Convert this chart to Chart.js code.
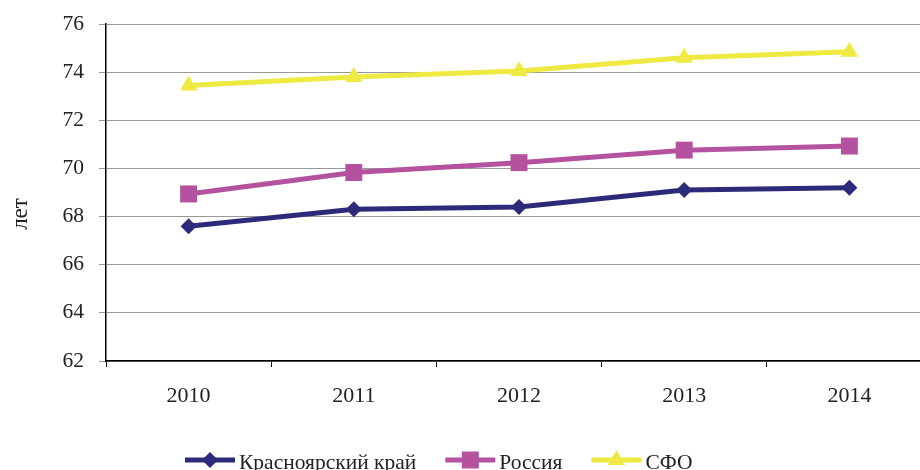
<!DOCTYPE html>
<html>
<head>
<meta charset="utf-8">
<script src="https://cdn.jsdelivr.net/npm/chart.js@4/dist/chart.umd.min.js"></script>
<style>
  html, body { margin:0; padding:0; background:#fff; overflow:hidden; }
  #wrap { width:920px; height:470px; overflow:hidden; position:relative; }
  #box { width:944px; height:470px; position:absolute; left:0; top:0; }
</style>
</head>
<body>
<div id="wrap"><div id="box"><canvas id="c" width="944" height="470"></canvas></div></div>
<script>
const years = ['2010', '2011', '2012', '2013', '2014'];
const krasnoyarsk = [67.6, 68.3, 68.4, 69.1, 69.2];
const russia = [68.94, 69.83, 70.24, 70.76, 70.93];
const sfo = [73.45, 73.8, 74.05, 74.6, 74.85];
const seriesNames = ['Красноярский край', 'Россия', 'СФО'];
const yTicks = [62, 64, 66, 68, 70, 72, 74, 76];
const yTitle = 'лет';

const colors = ['#2E2A7A', '#B5529F', '#EEEA42'];
const styles = ['rectRot', 'rect', 'triangle'];
const radii = [8, 12, 10];
const FONT = '"Liberation Serif", "Times New Roman", serif';

function drawMarker(ctx, style, x, y, r, color) {
  ctx.save();
  ctx.fillStyle = color;
  ctx.beginPath();
  if (style === 'rectRot') {
    ctx.moveTo(x - r, y); ctx.lineTo(x, y - r); ctx.lineTo(x + r, y); ctx.lineTo(x, y + r);
  } else if (style === 'rect') {
    const s = r * Math.SQRT1_2;
    ctx.rect(x - s, y - s, 2 * s, 2 * s);
  } else {
    ctx.moveTo(x, y - r); ctx.lineTo(x + r * 0.866, y + r * 0.5); ctx.lineTo(x - r * 0.866, y + r * 0.5);
  }
  ctx.closePath();
  ctx.fill();
  ctx.restore();
}

const legendPlugin = {
  id: 'customLegend',
  afterDraw(chart) {
    const ctx = chart.ctx;
    ctx.save();
    ctx.font = '23px ' + FONT;
    ctx.fillStyle = '#222';
    ctx.textAlign = 'center';
    ctx.textBaseline = 'middle';
    ctx.translate(21, 214);
    ctx.rotate(-Math.PI / 2);
    ctx.fillText(yTitle, 0, 0);
    ctx.restore();

    ctx.save();
    ctx.font = '21.5px ' + FONT;
    ctx.textBaseline = 'middle';
    let x = 185;
    const y = 460;
    chart.data.datasets.forEach((ds, i) => {
      ctx.strokeStyle = ds.borderColor;
      ctx.lineWidth = 5;
      ctx.beginPath();
      ctx.moveTo(x, y); ctx.lineTo(x + 50, y);
      ctx.stroke();
      drawMarker(ctx, styles[i], x + 25, y, radii[i], ds.borderColor);
      ctx.fillStyle = '#222';
      ctx.textAlign = 'left';
      ctx.fillText(ds.label, x + 54, y + 3);
      x += 54 + ctx.measureText(ds.label).width + 29;
    });
    ctx.restore();
  }
};

const datasets = [krasnoyarsk, russia, sfo].map((d, i) => ({
  label: seriesNames[i],
  data: d,
  borderColor: colors[i],
  backgroundColor: colors[i],
  borderWidth: 5,
  pointStyle: styles[i],
  pointRadius: radii[i],
  pointHoverRadius: radii[i],
  pointBorderWidth: 0,
  pointBackgroundColor: colors[i],
  tension: 0
}));

new Chart(document.getElementById('c'), {
  type: 'line',
  data: { labels: years, datasets },
  options: {
    responsive: false,
    animation: false,
    layout: { padding: { left: 0, right: 0, top: 24, bottom: 49 } },
    plugins: { legend: { display: false }, tooltip: { enabled: false } },
    scales: {
      x: {
        type: 'category',
        offset: true,
        grid: { drawOnChartArea: false, offset: true, tickLength: 6, color: '#000', lineWidth: 1 },
        border: { color: '#000', width: 1.5 },
        ticks: { font: { family: FONT, size: 22 }, color: '#222', padding: 16, maxRotation: 0 },
        afterFit(scale) { scale.height = 60; scale.paddingLeft = 0; scale.paddingRight = 0; }
      },
      y: {
        min: 62, max: 76,
        afterBuildTicks(scale) { scale.ticks = yTicks.map(v => ({ value: v })); },
        grid: { color: '#999', lineWidth: 1, tickLength: 7, tickColor: '#999' },
        border: { color: '#000', width: 1.5 },
        ticks: { font: { family: FONT, size: 21.5 }, color: '#222', padding: 15 },
        title: { display: false },
        afterFit(scale) { scale.width = 106; scale.paddingTop = 10; scale.paddingBottom = 10; }
      }
    }
  },
  plugins: [legendPlugin]
});
</script>
</body>
</html>
